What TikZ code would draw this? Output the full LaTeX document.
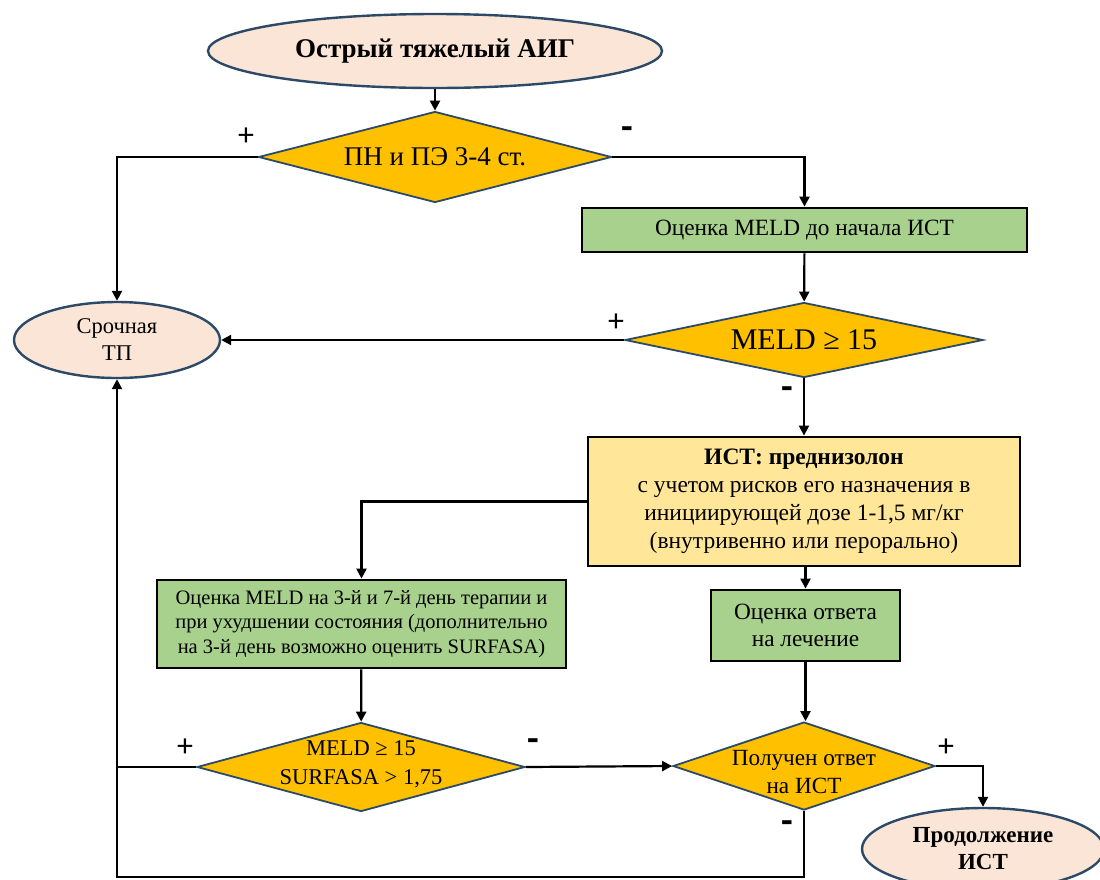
\documentclass[tikz,border=0pt]{standalone}
\usepackage{fontspec}
\setmainfont{Liberation Serif}
\newfontfamily\signfont{Carlito}
\usetikzlibrary{shapes.geometric,arrows.meta}
\definecolor{peach}{RGB}{251,229,214}
\definecolor{gold}{RGB}{255,192,0}
\definecolor{lgreen}{RGB}{169,209,142}
\definecolor{lyellow}{RGB}{255,230,153}
\definecolor{navy}{RGB}{44,74,104}
\begin{document}
\begin{tikzpicture}[x=1pt,y=-1pt,
  conn/.style={line width=2.2pt, draw=black},
  arr/.style={conn, -{Triangle[length=10pt,width=10pt]}},
  term/.style={ellipse, draw=navy, line width=2.4pt, fill=peach, inner sep=0pt, align=center,
               font=\fontsize{22.5}{27}\selectfont},
  dec/.style={diamond, draw=navy, line width=1.8pt, fill=gold, inner sep=0pt},
  dtxt/.style={inner sep=0pt, align=center, font=\fontsize{23.2}{28}\selectfont},
  gbox/.style={rectangle, draw=black, line width=2.8pt, fill=lgreen, inner sep=0pt, align=center,
               font=\fontsize{23.3}{27}\selectfont},
  ybox/.style={rectangle, draw=black, line width=2.8pt, fill=lyellow, inner sep=0pt, align=center,
               font=\fontsize{23.5}{28}\selectfont},
  plus/.style={inner sep=0pt, font=\signfont\fontsize{32}{32}\selectfont},
  minus/.style={inner sep=0pt, font=\signfont\bfseries\fontsize{38}{38}\selectfont}
]
\useasboundingbox (0,0) rectangle (1100,879);

% nodes
\node[term, minimum width=454, minimum height=74, font=\bfseries\fontsize{27}{30}\selectfont]
  (start) at (435,51) {Острый тяжелый АИГ};
\node[dec, minimum width=353, minimum height=91,
  label={[dtxt, font=\fontsize{27}{30}\selectfont]center:ПН и ПЭ 3-4 ст.}] (d1) at (435,157) {};
\node[gbox, minimum width=445, minimum height=44] (meld0) at (804.5,230) {Оценка MELD до начала ИСТ};
\node[dec, minimum width=358, minimum height=75,
  label={[dtxt, font=\fontsize{30}{34}\selectfont]center:MELD ≥ 15}] (d2) at (804,340) {};
\node[term, minimum width=206, minimum height=76] (tp) at (117,340) {Срочная\\ТП};
\node[ybox, minimum width=432, minimum height=129] (ist) at (804,501.5)
  {\textbf{ИСТ: преднизолон}\\с учетом рисков его назначения в\\инициирующей дозе 1-1,5 мг/кг\\(внутривенно или перорально)};
\node[gbox, minimum width=409, minimum height=88, font=\fontsize{20.5}{24.5}\selectfont] (g2) at (361.5,624)
  {Оценка MELD на 3-й и 7-й день терапии и\\при ухудшении состояния (дополнительно\\на 3-й день возможно оценить SURFASA)};
\node[gbox, minimum width=189, minimum height=71] (g3) at (805.5,625.5) {Оценка ответа\\на лечение};
\node[dec, minimum width=328, minimum height=89,
  label={[dtxt, yshift=3pt, font=\fontsize{22.5}{29}\selectfont]center:MELD ≥ 15\\SURFASA > 1,75}] (d3) at (361,767) {};
\node[dec, minimum width=262, minimum height=88,
  label={[dtxt, yshift=-6pt]center:Получен ответ\\на ИСТ}] (d4) at (804,766) {};
\node[term, minimum width=242, minimum height=82, font=\bfseries\fontsize{23}{27}\selectfont]
  (cont) at (983,849) {Продолжение\\ИСТ};

\coordinate (bl) at (117,877);

% signs
\node[plus] (p1) at (246,137) {+};
\node[minus] (m1) at (627,133) {-};
\node[plus] (p2) at (616,323) {+};
\node[minus] (m2) at (787,393) {-};
\node[plus] (p3) at (185,748) {+};
\node[minus] (m3) at (533,745) {-};
\node[plus] (p4) at (946,748) {+};
\node[minus] (m4) at (787,827) {-};

% connectors
\draw[arr] (start) -- (d1);
\draw[arr] (d1.west) -| (tp.north);
\draw[arr] (d1.east) -| (meld0.north);
\draw[arr] (meld0) -- (d2);
\draw[arr] (d2.west) -- (tp.east);
\draw[arr] (d2) -- (ist);
\draw[arr] (ist.west) -| (g2.north);
\draw[arr] (ist.south) -- (ist.south -| g3.north) -- (g3.north);
\draw[arr] (g2) -- (d3);
\draw[arr] (g3) -- (g3 |- d4.north);
\draw[arr] (d3.east) -- (d4.west);
\draw[arr] (d4.east) -| (cont.north);
\draw[conn] (d3.west) -- (d3.west -| bl);
\draw[arr] (d4.south) |- (bl) -- (tp.south);
\end{tikzpicture}
\end{document}
